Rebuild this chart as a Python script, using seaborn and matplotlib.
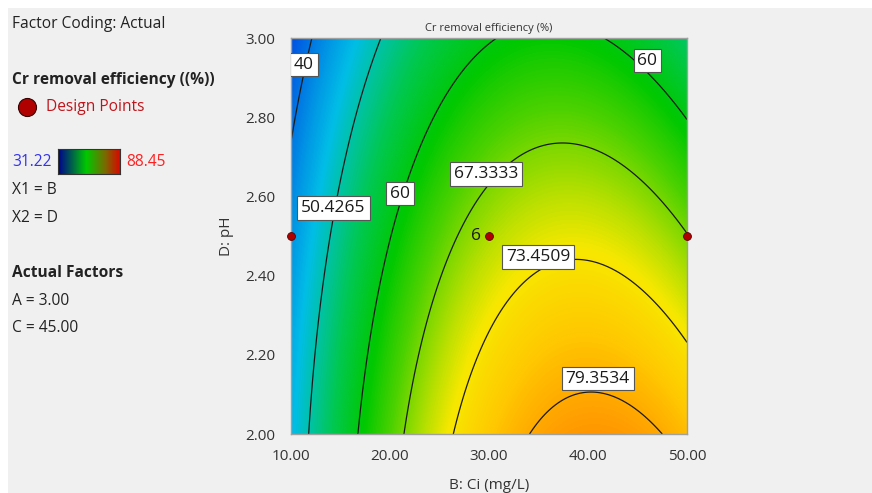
import numpy as np
import pandas as pd
import matplotlib
matplotlib.use("Agg")
import matplotlib.pyplot as plt
from matplotlib.colors import LinearSegmentedColormap
from matplotlib.lines import Line2D
from matplotlib.patches import Rectangle
import seaborn as sns

# ---- factor ranges (actual units) ----
ci_range = [10.0, 50.0]      # B: Ci (mg/L)
ph_range = [2.0, 3.0]        # D: pH

# ---- fitted quadratic model in coded factors (A = 3.00, C = 45.00 fixed) ----
coef_intercept = 69.67
coef_B = 12.34
coef_D = -8.54
coef_BD = -3.34
coef_BB = -14.52
coef_DD = -1.46

# ---- response range of the design ----
resp_min = 31.22
resp_max = 88.45

# ---- contour levels ----
contour_levels = [40, 50.4265, 60, 67.3333, 73.4509, 79.3534]

# ---- design points ----
design_ci = [10.0, 30.0, 50.0]
design_ph = [2.5, 2.5, 2.5]
design_count = ["", "6", ""]

# ---- axis ticks ----
x_ticks = [10, 20, 30, 40, 50]
y_ticks = [2.0, 2.2, 2.4, 2.6, 2.8, 3.0]

W, H = 872, 493
sns.set_theme(style="white")
plt.rcParams["font.family"] = ["Open Sans", "DejaVu Sans"]

fig = plt.figure(figsize=(W / 100, H / 100), dpi=100)
fig.patch.set_facecolor("white")
fig.add_artist(Rectangle((8 / W, 0), 1 - 8 / W, 1 - 8 / H, transform=fig.transFigure,
                         facecolor="#f0f0f0", edgecolor="none", zorder=-10))


def fx(px):
    return px / W


def fy(py):
    return 1 - py / H


ax = fig.add_axes([fx(291), fy(434), (687 - 291) / W, (434 - 38) / H])

# response surface on a fine grid
ci = np.linspace(ci_range[0], ci_range[1], 400)
ph = np.linspace(ph_range[0], ph_range[1], 400)
CI, PH = np.meshgrid(ci, ph)
b = (CI - 30.0) / 20.0
d = (PH - 2.5) / 0.5
Z = (coef_intercept + coef_B * b + coef_D * d + coef_BD * b * d
     + coef_BB * b ** 2 + coef_DD * d ** 2)

surface_cmap = LinearSegmentedColormap.from_list(
    "de_surface",
    [(0.0, "#0020e0"), (0.276, "#00bee6"), (0.42, "#00c850"),
     (0.52, "#00c800"), (0.60, "#50d200"), (0.73, "#f8e800"),
     (0.80, "#ffc800"), (0.88, "#ff9000"), (1.0, "#ff2000")])

ax.imshow(Z, extent=[ci_range[0], ci_range[1], ph_range[0], ph_range[1]],
          origin="lower", aspect="auto", cmap=surface_cmap,
          vmin=resp_min, vmax=resp_max, interpolation="bilinear", zorder=0)

cs = ax.contour(CI, PH, Z, levels=contour_levels, colors="#1a1a1a",
                linewidths=0.9, zorder=2)

# centres of the contour label boxes
label_spots = [(11.31, 2.933), (14.29, 2.571), (21.01, 2.607), (29.73, 2.657),
               (34.98, 2.447), (40.98, 2.140), (46.01, 2.943)]
texts = ax.clabel(cs, fmt=lambda v: f"{v:g}", manual=label_spots,
                  inline=False, fontsize=12.5)
for t, spot in zip(texts, label_spots):
    t.set_rotation(0)
    t.set_position(spot)
    t.set_color("#1a1a1a")
    t.set_zorder(4)
    t.set_bbox(dict(boxstyle="square,pad=0.22", facecolor="white",
                    edgecolor="#555555", linewidth=0.8))

# design points
pts = pd.DataFrame({"B": design_ci, "D": design_ph})
sns.scatterplot(data=pts, x="B", y="D", ax=ax, color="#b00000",
                edgecolor="#5a0000", linewidth=0.6, s=32, zorder=6)
ax.collections[-1].set_clip_on(False)
for xv, yv, lab in zip(design_ci, design_ph, design_count):
    if lab:
        ax.annotate(lab, (xv, yv), xytext=(-6, 0), textcoords="offset points",
                    ha="right", va="center", fontsize=12.5, color="#1a1a1a", zorder=6)

ax.set_xlim(ci_range)
ax.set_ylim(ph_range)
ax.set_xticks(x_ticks)
ax.set_yticks(y_ticks)
ax.set_xticklabels([f"{v:.2f}" for v in x_ticks])
ax.set_yticklabels([f"{v:.2f}" for v in y_ticks])
ax.tick_params(axis="both", direction="out", length=8, width=1, color="#8a8a8a",
               labelsize=11, labelcolor="#333333", pad=3)
for sp in ax.spines.values():
    sp.set_color("#a0a0a0")
    sp.set_linewidth(1)
ax.set_xlabel("B: Ci (mg/L)", fontsize=11, color="#333333", labelpad=10)
ax.set_ylabel("D: pH", fontsize=11, color="#333333", labelpad=8)
ax.set_title("Cr removal efficiency (%)", fontsize=8, color="#333333", pad=5)

# ---- side panel ----
txt = dict(fontsize=11.2, color="#222222", va="center", ha="left")
fig.text(fx(12), fy(24), "Factor Coding: Actual", **txt)
fig.text(fx(12), fy(80), "Cr removal efficiency ((%))", fontweight="bold", **txt)
fig.add_artist(Line2D([fx(27)], [fy(107)], marker="o", markersize=13,
                      color="#b00000", markeredgecolor="#3a0000",
                      markeredgewidth=0.8, transform=fig.transFigure))
fig.text(fx(46), fy(107), "Design Points", fontsize=11.2, color="#c0141a",
         va="center", ha="left")

fig.text(fx(12), fy(162), f"{resp_min:.2f}", fontsize=11.2, color="#3333ee",
         va="center", ha="left")
fig.text(fx(126), fy(162), f"{resp_max:.2f}", fontsize=11.2, color="#ff2020",
         va="center", ha="left")
legend_cmap = LinearSegmentedColormap.from_list(
    "legend_bar",
    [(0.0, "#000090"), (0.45, "#00c800"), (0.75, "#7a6a00"), (1.0, "#e00000")])
cax = fig.add_axes([fx(58), fy(174), 62 / W, 25 / H])
cax.imshow(np.linspace(0, 1, 256)[None, :], aspect="auto", cmap=legend_cmap)
cax.set_xticks([])
cax.set_yticks([])
for sp in cax.spines.values():
    sp.set_color("#333333")
    sp.set_linewidth(0.8)

fig.text(fx(12), fy(190), "X1 = B", **txt)
fig.text(fx(12), fy(218), "X2 = D", **txt)
fig.text(fx(12), fy(273), "Actual Factors", fontweight="bold", **txt)
fig.text(fx(12), fy(301), "A = 3.00", **txt)
fig.text(fx(12), fy(328), "C = 45.00", **txt)

fig.savefig("out.png", dpi=100, facecolor=fig.get_facecolor())
